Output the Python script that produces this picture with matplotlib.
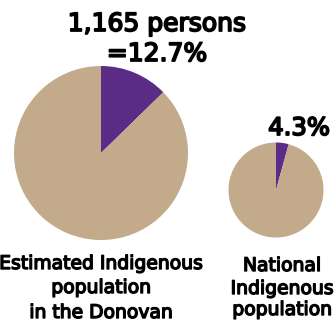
import matplotlib
matplotlib.use("Agg")
import matplotlib.pyplot as plt
import matplotlib.patheffects as pe

W, H = 336, 323
DPI = 100

label_lines = [["Estimated Indigenous", "population", "in the Donovan"],
               ["National", "Indigenous", "population"]]
indigenous_pct = [12.7, 4.3]
value_lines = [["1,165 persons", "=12.7%"], ["4.3%"]]
colors = ["#5B2C86", "#C2AA8B"]

fig = plt.figure(figsize=(W / DPI, H / DPI), dpi=DPI)

def px_axes(cx, cy, r):
    return fig.add_axes([(cx - r) / W, (H - cy - r) / H, 2 * r / W, 2 * r / H])

pies = [(101, 153, 87), (276, 190, 47.5)]
for (cx, cy, r), pct in zip(pies, indigenous_pct):
    ax = px_axes(cx, cy, r)
    ax.pie([pct, 100 - pct], colors=colors, startangle=90, counterclock=False,
           radius=1, wedgeprops=dict(linewidth=0))
    ax.set_xlim(-1, 1)
    ax.set_ylim(-1, 1)
    ax.set_aspect("auto")
    ax.axis("off")

font = "DejaVu Sans"

def put(x, y, s, size, sw):
    fig.text(x / W, 1 - y / H, s, ha="center", va="baseline", fontsize=size,
             family=font, color="black",
             path_effects=[pe.withStroke(linewidth=sw, foreground="black")])

put(157, 31, value_lines[0][0], 18, 1.3)
put(157, 61, value_lines[0][1], 18, 1.3)
put(299, 135, value_lines[1][0], 17.5, 1.3)

for line, y in zip(label_lines[0], [269, 293, 318]):
    put(101, y, line, 13.5, 1.0)
for line, y in zip(label_lines[1], [271, 294, 315]):
    put(282, y, line, 13.5, 1.0)

fig.savefig("out.png", dpi=DPI)
